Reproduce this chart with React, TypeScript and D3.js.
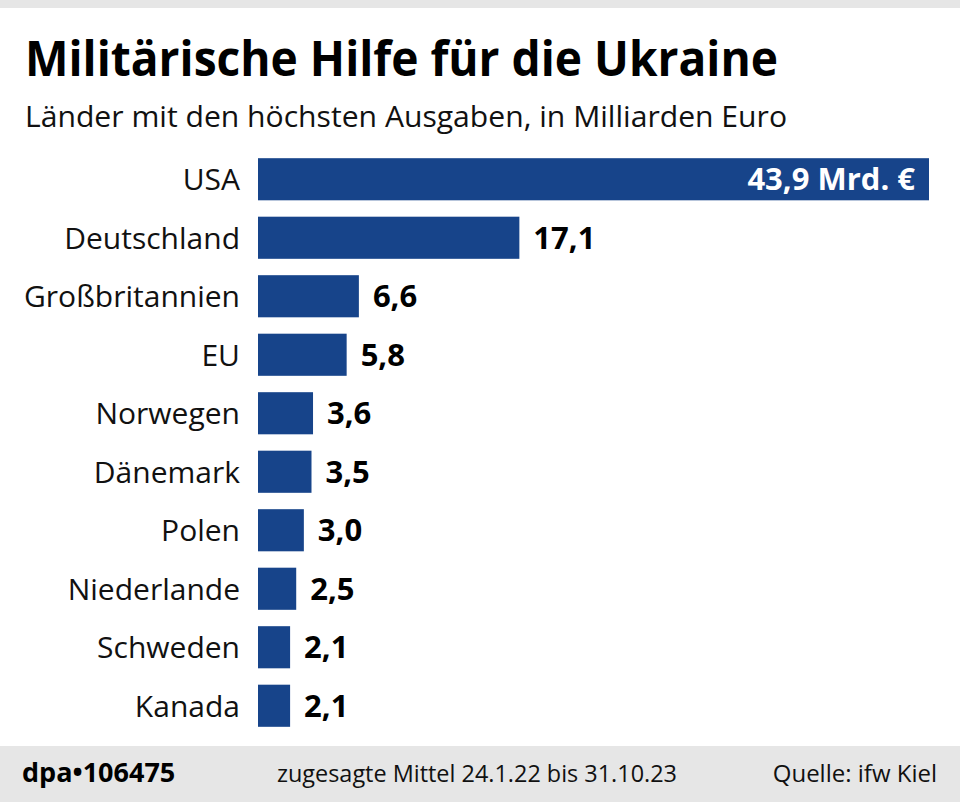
import React from "react";
import * as d3 from "d3";

const categories = ["USA", "Deutschland", "Großbritannien", "EU", "Norwegen", "Dänemark", "Polen", "Niederlande", "Schweden", "Kanada"];
const values = [43.9, 17.1, 6.6, 5.8, 3.6, 3.5, 3.0, 2.5, 2.1, 2.1];
const valueLabels = ["43,9 Mrd. €", "17,1", "6,6", "5,8", "3,6", "3,5", "3,0", "2,5", "2,1", "2,1"];

const title = "Militärische Hilfe für die Ukraine";
const subtitle = "Länder mit den höchsten Ausgaben, in Milliarden Euro";
const footerId = "dpa•106475";
const footerNote = "zugesagte Mittel 24.1.22 bis 31.10.23";
const footerSource = "Quelle: ifw Kiel";

const W = 960;
const H = 802;
const BAR = "#17448a";
const FONT = "'Open Sans', 'Noto Sans', sans-serif";

export default function App() {
  const x = d3.scaleLinear().domain([0, 43.9]).range([258, 929]);
  const y = d3.scaleBand().domain(categories).range([150, 735]).paddingInner(0.28).paddingOuter(0.14);
  return (
    <svg width={W} height={H} style={{ position: "absolute", left: 0, top: 0, background: "#fff" }}>
      <rect x={0} y={0} width={W} height={8} fill="#e6e6e6" />
      <text x={25} y={76} fontFamily={FONT} fontWeight={700} fontSize={49} textLength={753} lengthAdjust="spacingAndGlyphs" fill="#000">{title}</text>
      <text x={25} y={127} fontFamily={FONT} fontSize={29} textLength={762} lengthAdjust="spacingAndGlyphs" fill="#111">{subtitle}</text>
      {categories.map((c, i) => {
        const yy = y(c)!;
        const bw = y.bandwidth();
        const xe = x(values[i]);
        const inside = i === 0;
        return (
          <g key={c}>
            <rect x={x(0)} y={yy} width={xe - x(0)} height={bw} fill={BAR} />
            <text x={240} y={yy + bw / 2} dy="0.36em" textAnchor="end" fontFamily={FONT} fontSize={30} fill="#111">{c}</text>
            <text x={inside ? xe - 14 : xe + 14} y={yy + bw / 2} dy="0.36em" textAnchor={inside ? "end" : "start"} fontFamily={FONT} fontWeight={700} fontSize={31} fill={inside ? "#fff" : "#000"}>{valueLabels[i]}</text>
          </g>
        );
      })}
      <rect x={0} y={746} width={W} height={56} fill="#e6e6e6" />
      <text x={22} y={782} fontFamily={FONT} fontWeight={700} fontSize={27} fill="#000">{footerId}</text>
      <text x={277} y={782} fontFamily={FONT} fontSize={24} textLength={400} lengthAdjust="spacingAndGlyphs" fill="#111">{footerNote}</text>
      <text x={937} y={782} textAnchor="end" fontFamily={FONT} fontSize={24} fill="#111">{footerSource}</text>
    </svg>
  );
}
